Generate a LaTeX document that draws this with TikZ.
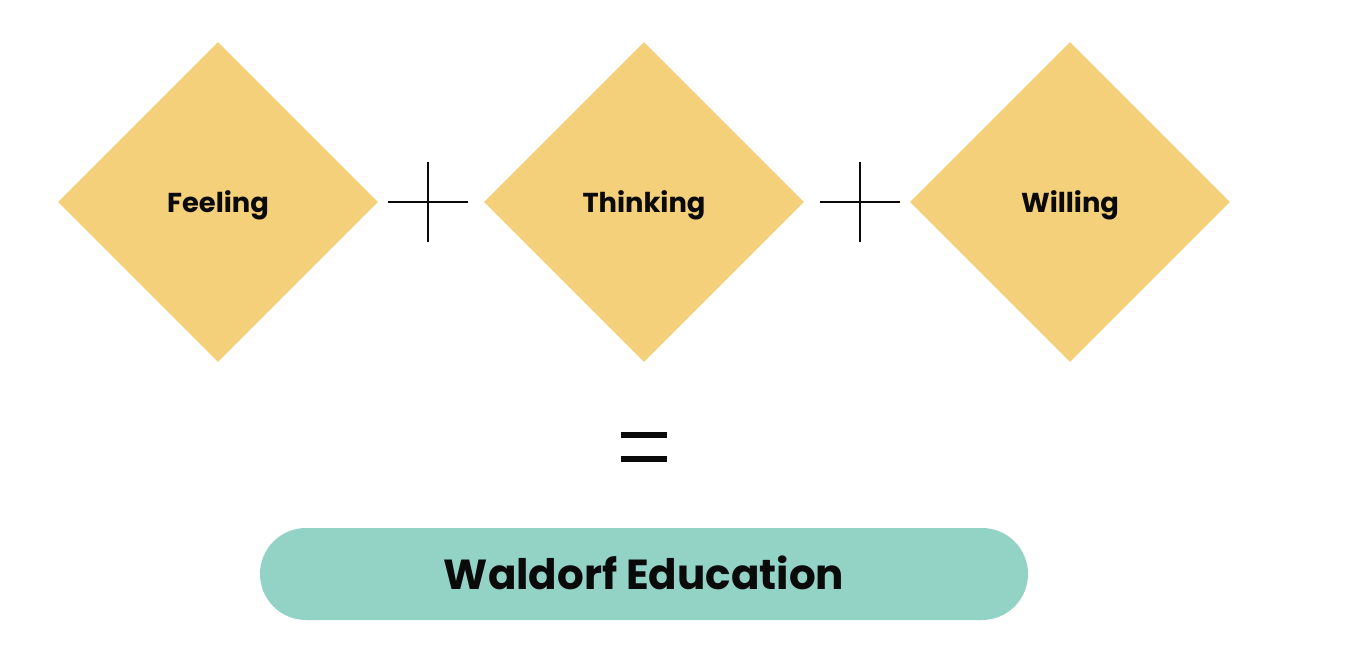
\documentclass[tikz,border=0pt]{standalone}
\usepackage{fontspec}
\setmainfont{Poppins}[BoldFont={* Bold}]
\usetikzlibrary{shapes.geometric,positioning,calc}
\definecolor{ink}{HTML}{0A0A0A}
\definecolor{sand}{HTML}{F4D07A}
\definecolor{mint}{HTML}{93D3C6}
\tikzset{
  facet/.style={diamond, aspect=1, fill=sand, draw=none, inner sep=0pt, minimum width=240pt, minimum height=240pt, text height=15pt, text depth=0pt, font=\bfseries\fontsize{20.5}{24}\selectfont, text=ink},
  result/.style={fill=mint, draw=none, rounded corners=34.5pt, minimum width=576pt, minimum height=69pt, inner sep=0pt, text height=22.5pt, text depth=0pt, font=\bfseries\fontsize{31.5}{38}\selectfont, text=ink},
  plusline/.style={draw=ink, line width=1.6pt},
  eqline/.style={draw=ink, line width=4.5pt}
}
\begin{document}
\begin{tikzpicture}[x=0.75pt,y=-0.75pt]
\useasboundingbox (0,0) rectangle (1350,664);
\fill[white] (0,0) rectangle (1350,664);
\node[facet] (feel) at (218,202) {Feeling};
\node[facet] (think) at (644,202) {Thinking};
\node[facet] (will) at (1070,202) {Willing};
% plus signs
\draw[plusline] (388,202) -- (468,202) (428,162) -- (428,242);
\draw[plusline] (820,202) -- (900,202) (860,162) -- (860,242);
% equals
\draw[eqline] (621,435) -- (667,435) (621,458.5) -- (667,458.5);
\node[result] (waldorf) at (644,574) {Waldorf Education};
\end{tikzpicture}
\end{document}
